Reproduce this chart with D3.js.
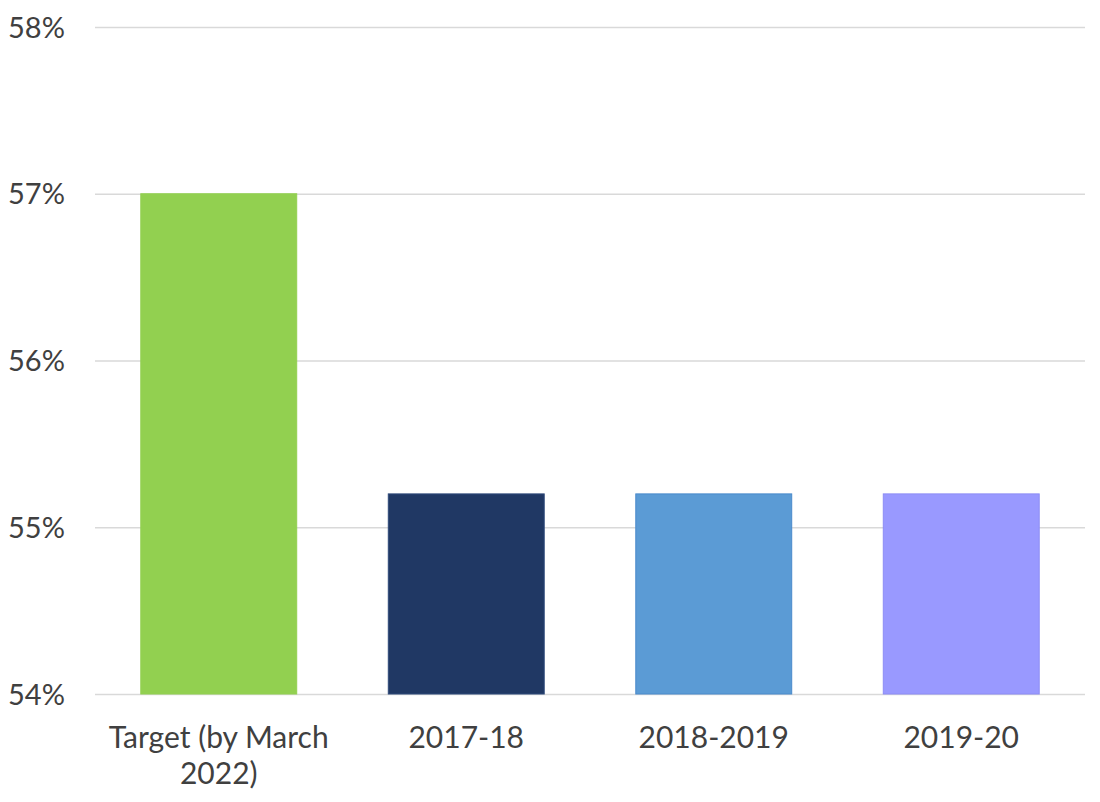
<!DOCTYPE html>
<html>
<head>
<meta charset="utf-8">
<script src="https://cdn.jsdelivr.net/npm/d3@7"></script>
<style>
  html, body { margin: 0; padding: 0; background: #fff; }
  svg { display: block; }
  text { font-family: Lato, "Open Sans", sans-serif; fill: #404040; }
</style>
</head>
<body>
<svg id="chart" width="1100" height="802"></svg>
<script>
const categories = ["Target (by March 2022)", "2017-18", "2018-2019", "2019-20"];
const labelLines = [["Target (by March", "2022)"], ["2017-18"], ["2018-2019"], ["2019-20"]];
const values = [57.0, 55.2, 55.2, 55.2];
const colors = ["#92D050", "#203864", "#5B9BD5", "#9999FF"];
const strokes = ["#92D050", "#2F4A7A", "#4A8ACB", "#8C8CF5"];
const yTicks = [54, 55, 56, 57, 58];

const svg = d3.select("#chart");
const mLeft = 95, mRight = 1085, mTop = 27, mBottom = 694;

const x = d3.scaleBand().domain(categories).range([mLeft, mRight]).paddingInner(0.37).paddingOuter(0.185);
const y = d3.scaleLinear().domain([54, 58]).range([mBottom, mTop]);

// gridlines
svg.append("g").selectAll("line").data(yTicks).join("line")
  .attr("x1", mLeft).attr("x2", mRight)
  .attr("y1", d => y(d) + 0.5).attr("y2", d => y(d) + 0.5)
  .attr("stroke", "#d9d9d9").attr("stroke-width", 1.5);

// bars
svg.append("g").selectAll("rect").data(values).join("rect")
  .attr("x", (d, i) => x(categories[i]))
  .attr("width", x.bandwidth())
  .attr("y", d => y(d))
  .attr("height", d => y(54) - y(d))
  .attr("fill", (d, i) => colors[i])
  .attr("stroke", (d, i) => strokes[i])
  .attr("stroke-width", 1);

// y axis labels
const yAxis = d3.axisLeft(y).tickValues(yTicks).tickFormat(d => d + "%").tickSize(0).tickPadding(0);
const ya = svg.append("g").attr("transform", "translate(8,0)").call(yAxis);
ya.select(".domain").remove();
ya.selectAll("text").attr("text-anchor", "start").attr("font-size", 29)
  .style("font-family", "Lato, 'Open Sans', sans-serif").attr("fill", "#404040").attr("dy", "0.35em");

// x labels
const xg = svg.append("g");
categories.forEach((c, i) => {
  const t = xg.append("text")
    .attr("x", x(c) + x.bandwidth() / 2)
    .attr("y", 748)
    .attr("text-anchor", "middle")
    .attr("font-size", 30);
  labelLines[i].forEach((ln, j) => {
    t.append("tspan").attr("x", x(c) + x.bandwidth() / 2).attr("dy", j === 0 ? 0 : 36).text(ln);
  });
});
</script>
</body>
</html>
